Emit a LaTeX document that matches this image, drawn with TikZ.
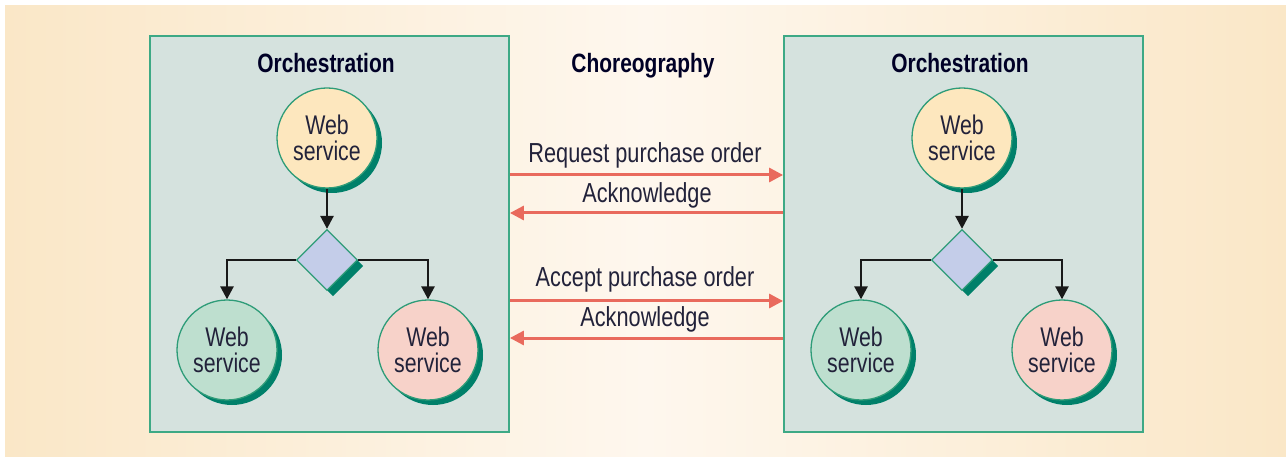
\documentclass[tikz,border=0pt]{standalone}
\usepackage{fontspec}
\setmainfont{Liberation Sans}[FakeStretch=0.79]
\usetikzlibrary{shapes.geometric,arrows.meta,shadows}
\definecolor{bgedge}{HTML}{FAE7C7}
\definecolor{bgcenter}{HTML}{FEF7EE}
\definecolor{panelfill}{HTML}{D5E2DE}
\definecolor{panelline}{HTML}{3DA985}
\definecolor{ringline}{HTML}{2E9C78}
\definecolor{shadowgreen}{HTML}{00806A}
\definecolor{wsyellow}{HTML}{FDE7BE}
\definecolor{wsgreen}{HTML}{BEDFCF}
\definecolor{wspink}{HTML}{F7D2C9}
\definecolor{dialav}{HTML}{C4CDE9}
\definecolor{msgred}{HTML}{E96A5D}
\definecolor{txt}{HTML}{22223A}
\begin{document}
\begin{tikzpicture}[x=1pt,y=-1pt,
  panel/.style={draw=panelline,line width=1.8pt,fill=panelfill,rectangle,inner sep=0pt,minimum width=359pt,minimum height=396pt},
  ws/.style={circle,draw=ringline,line width=1.3pt,inner sep=0pt,minimum size=100pt,align=center,text=txt,
    font=\fontsize{27}{26.5}\selectfont,
    drop shadow={shadow xshift=5pt,shadow yshift=-5pt,fill=shadowgreen,opacity=1}},
  decide/.style={diamond,draw=ringline,line width=1.3pt,fill=dialav,inner sep=0pt,minimum width=61pt,minimum height=61pt,
    drop shadow={shadow xshift=6pt,shadow yshift=-6pt,fill=shadowgreen,opacity=1}},
  title/.style={anchor=base,text=black!85!blue,font=\fontsize{26.5}{26}\selectfont\bfseries},
  msglabel/.style={anchor=base,text=txt,font=\fontsize{27.5}{26}\selectfont},
  flow/.style={draw=black!90,line width=2.6pt,-{Triangle[length=13pt,width=13pt]}},
  msg/.style={draw=msgred,line width=3pt,-{Triangle[length=14pt,width=14pt]}}
]
\useasboundingbox (0,0) rectangle (1286,457);
\fill[white] (0,0) rectangle (1286,457);
\shade[left color=bgedge,right color=bgedge,middle color=bgcenter] (5,6) rectangle (1286,457);

% panels
\node[panel] (lp) at (329.5,234) {};
\node[panel] (rp) at (963.5,234) {};

% titles
\node[title] (lt) at (326,73) {Orchestration};
\node[title] (rt) at (960,73) {Orchestration};
\node[title] (ct) at (643,73) {Choreography};

% left orchestration
\node[ws,fill=wsyellow] (l1) at (327,138) {Web\\service};
\node[decide] (ld) at (327,260) {};
\node[ws,fill=wsgreen] (l2) at (227,350) {Web\\service};
\node[ws,fill=wspink] (l3) at (428,350) {Web\\service};
\draw[flow] (l1.south) -- (ld.north);
\draw[flow] (ld.west) -| (l2.north);
\draw[flow] (ld.east) -| (l3.north);

% right orchestration
\node[ws,fill=wsyellow] (r1) at (962,138) {Web\\service};
\node[decide] (rd) at (962,260) {};
\node[ws,fill=wsgreen] (r2) at (861,350) {Web\\service};
\node[ws,fill=wspink] (r3) at (1062,350) {Web\\service};
\draw[flow] (r1.south) -- (rd.north);
\draw[flow] (rd.west) -| (r2.north);
\draw[flow] (rd.east) -| (r3.north);

% choreography messages
\coordinate (m1) at (646,175);
\coordinate (m2) at (646,213);
\coordinate (m3) at (646,301);
\coordinate (m4) at (646,338);
\draw[msg] (lp.east |- m1) -- (rp.west |- m1);
\draw[msg] (rp.west |- m2) -- (lp.east |- m2);
\draw[msg] (lp.east |- m3) -- (rp.west |- m3);
\draw[msg] (rp.west |- m4) -- (lp.east |- m4);
\node[msglabel] (t1) at (645,163) {Request purchase order};
\node[msglabel] (t2) at (647,202.5) {Acknowledge};
\node[msglabel] (t3) at (645,287) {Accept purchase order};
\node[msglabel] (t4) at (645,326.5) {Acknowledge};
\end{tikzpicture}
\end{document}
